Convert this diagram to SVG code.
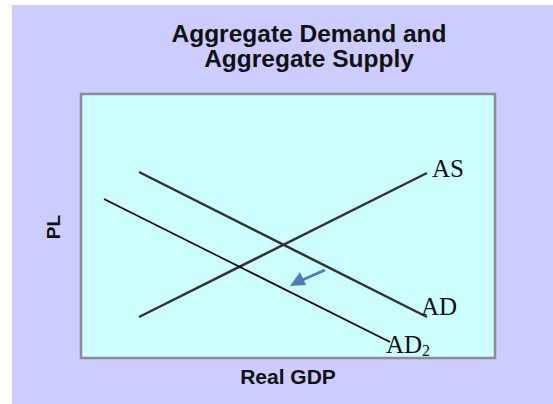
<svg xmlns="http://www.w3.org/2000/svg" width="553" height="404" viewBox="0 0 553 404">
<defs>
<style>
.sans{font-family:"Liberation Sans",Arial,sans-serif;font-weight:bold;fill:#111;}
.serif{font-family:"Liberation Serif","Times New Roman",serif;fill:#111;}
.curve{fill:none;stroke:#333;stroke-width:2.5;}
</style>
</defs>
<rect x="0" y="0" width="553" height="404" fill="#ffffff"/>
<rect x="12" y="5" width="541" height="399" fill="#ccccff"/>
<g id="title">
<text class="sans" x="309" y="42" font-size="24.5" text-anchor="middle">Aggregate Demand and</text>
<text class="sans" x="309" y="67" font-size="24.5" text-anchor="middle">Aggregate Supply</text>
</g>
<g id="plot">
<rect x="81" y="94" width="414" height="264" fill="#ccffff" stroke="#8c8c8c" stroke-width="2.5"/>
</g>
<g id="axis-labels">
<text class="sans" x="0" y="0" font-size="19" text-anchor="middle" transform="translate(60,227) rotate(-90)">PL</text>
<text class="sans" x="288" y="384" font-size="21" text-anchor="middle">Real GDP</text>
</g>
<g id="connectors">
<line id="as-line" class="curve" x1="139" y1="317" x2="427" y2="173"/>
<line id="ad-line" class="curve" x1="139" y1="172" x2="427" y2="317"/>
<line id="ad2-line" x1="104" y1="199" x2="390" y2="342" stroke="#000" stroke-width="1.6"/>
<path id="shift-arrow" d="M325,270 L300,281" stroke="#4a7ebf" stroke-width="3" fill="none"/>
<path d="M290,286 L300,272 L306,285 z" fill="#4a7ebf"/>
</g>
<g id="AS">
<text class="serif" x="432" y="177" font-size="25">AS</text>
</g>
<g id="AD">
<text class="serif" x="421" y="315" font-size="25">AD</text>
</g>
<g id="AD2">
<text class="serif" x="386" y="353" font-size="25">AD<tspan font-size="16" dy="3">2</tspan></text>
</g>
</svg>
